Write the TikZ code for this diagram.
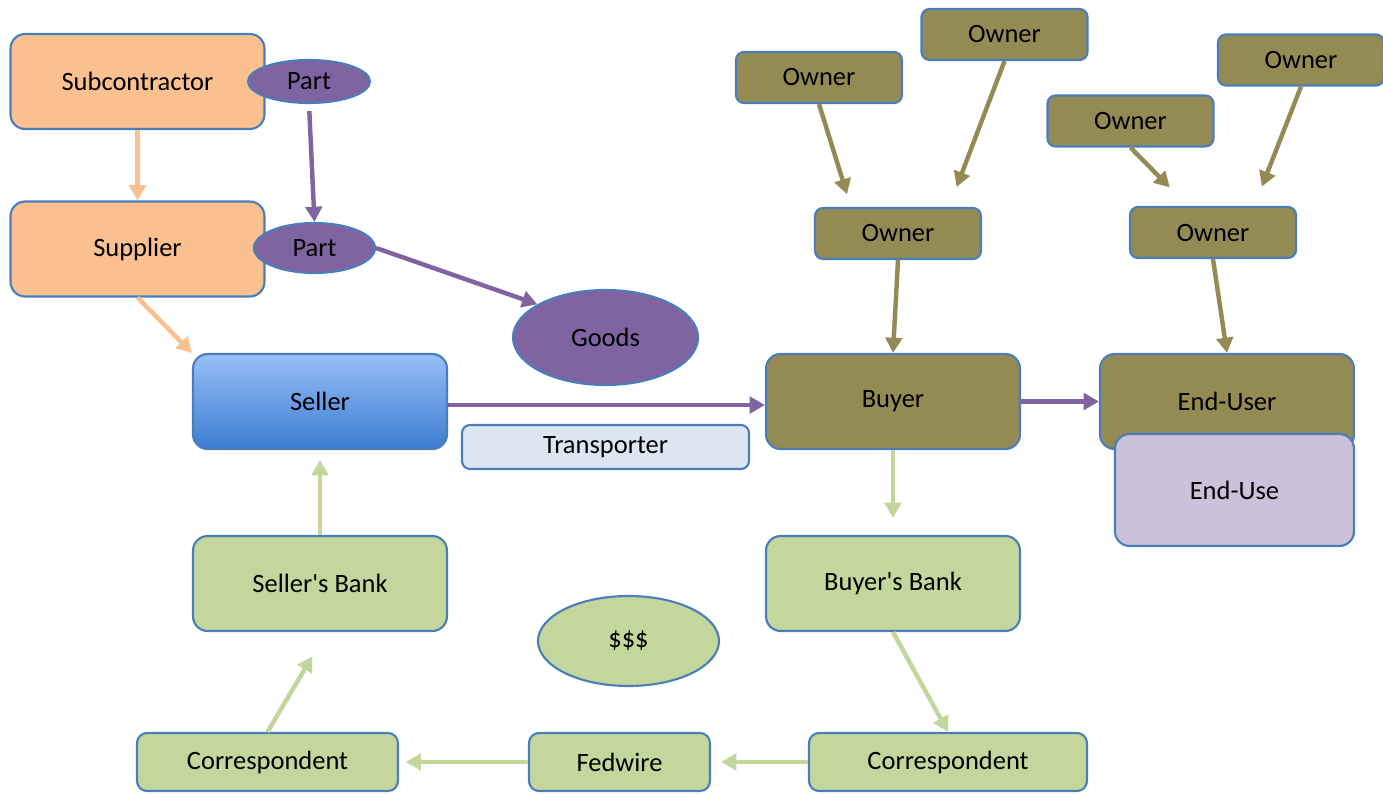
\documentclass[tikz,border=0pt]{standalone}
\usepackage{fontspec}
\setmainfont{Carlito}
\usetikzlibrary{arrows.meta,shapes.geometric}
\definecolor{edgeblue}{HTML}{4A7EBB}
\definecolor{peach}{HTML}{FAC090}
\definecolor{grape}{HTML}{8064A2}
\definecolor{olive}{HTML}{948A54}
\definecolor{sage}{HTML}{C3D69B}
\definecolor{lilac}{HTML}{CCC1DA}
\definecolor{paleblue}{HTML}{DCE6F2}
\definecolor{skytop}{HTML}{97BEF9}
\definecolor{skybot}{HTML}{3C7DD0}

\begin{document}
\begin{tikzpicture}[x=1.5cm,y=1.5cm,font=\fontsize{11.3}{13}\selectfont,
    box/.style={draw=edgeblue, line width=0.9pt, rounded corners=0.22cm, inner sep=0pt, minimum width=3.81cm, minimum height=1.425cm},
    obox/.style={box, minimum width=2.49cm, minimum height=0.765cm, fill=olive, rounded corners=0.12cm},
    lowbox/.style={box, minimum height=0.87cm, fill=sage, rounded corners=0.15cm},
    oval/.style={draw=edgeblue, line width=0.9pt, ellipse, inner sep=0pt},
    arr/.style={line width=1.9pt, -{Triangle[width=7pt,length=6.5pt]}}]
    \useasboundingbox (0,0) rectangle (13.83,-7.95);

    % goods side
    \node[box, fill=peach] (sub) at (1.375,-0.815) {Subcontractor};
    \node[box, fill=peach] (sup) at (1.375,-2.49) {Supplier};
    \node[oval, fill=grape, minimum width=1.83cm, minimum height=0.645cm] (part1) at (3.09,-0.815) {Part};
    \node[oval, fill=grape, minimum width=1.815cm, minimum height=0.75cm] (part2) at (3.145,-2.48) {Part};
    \node[oval, fill=grape, minimum width=2.775cm, minimum height=1.425cm] (goods) at (6.055,-3.375) {Goods};
    \node[box, top color=skytop, middle color=skytop!60!skybot, bottom color=skybot] (sell) at (3.20,-4.015) {Seller};
    \node[box, fill=paleblue, minimum width=4.305cm, minimum height=0.66cm, rounded corners=0.12cm] (trans) at (6.055,-4.47) {Transporter};

    % owners
    \node[obox] (own1) at (8.19,-0.775) {Owner};
    \node[obox] (own2) at (10.045,-0.345) {Owner};
    \node[obox] (own3) at (11.305,-1.21) {Owner};
    \node[obox] (own4) at (13.01,-0.60) {Owner};
    \node[obox] (own5) at (8.98,-2.335) {Owner};
    \node[obox] (own6) at (12.13,-2.325) {Owner};
    \node[box, fill=olive] (buy) at (8.93,-4.015) {Buyer};
    \node[box, fill=olive] (euser) at (12.27,-4.015) {End-User};
    \node[box, fill=lilac, minimum width=3.585cm, minimum height=1.68cm] (euse) at (12.345,-4.90) {End-Use};

    % money side
    \node[box, fill=sage] (sbank) at (3.20,-5.835) {Seller\textquotesingle s Bank};
    \node[box, fill=sage] (bbank) at (8.93,-5.835) {Buyer\textquotesingle s Bank};
    \node[oval, fill=sage, minimum width=2.715cm, minimum height=1.35cm] (cash) at (6.285,-6.41) {\$\$\$};
    \node[lowbox, minimum width=3.915cm] (corr1) at (2.675,-7.62) {Correspondent};
    \node[lowbox, minimum width=2.715cm] (fed) at (6.195,-7.62) {Fedwire};
    \node[lowbox, minimum width=4.17cm] (corr2) at (9.48,-7.62) {Correspondent};

    \draw[arr, peach] (sub.south) -- (sup.north);
    \draw[arr, peach] (sup.south) -- (sell.north west);
    \draw[arr, grape, shorten <=3pt] (part1.south) -- (part2.north);
    \draw[arr, grape] (part2.east) -- (goods.154);
    \draw[arr, grape] ([yshift=-1.5pt]sell.east) -- ([yshift=-1.5pt]buy.west);
    \draw[arr, grape] (buy.east) -- (euser.west);

    \draw[arr, olive, shorten >=0.2cm] (own1.south) -- ([xshift=-0.705cm]own5.north);
    \draw[arr, olive, shorten >=0.32cm] (own2.south) -- ([xshift=0.765cm]own5.north);
    \draw[arr, olive, shorten >=0.39cm] (own3.south) -- ([xshift=-0.375cm]own6.north);
    \draw[arr, olive, shorten >=0.31cm] (own4.south) -- ([xshift=0.62cm]own6.north);
    \draw[arr, olive] (own5.south) -- (buy.north);
    \draw[arr, olive] (own6.south) -- (euser.north);

    \draw[arr, sage, shorten >=0.255cm] (buy.south) -- (bbank.north);
    \draw[arr, sage, shorten >=0.15cm] (sbank.north) -- (sell.south);
    \draw[arr, sage] (bbank.south) -- (corr2.north);
    \draw[arr, sage, shorten >=0.15cm] (corr2.west) -- (fed.east);
    \draw[arr, sage, shorten >=0.1cm] (fed.west) -- (corr1.east);
    \draw[arr, sage, shorten >=0.42cm] (corr1.north) -- ([xshift=0.1cm]sbank.south);
\end{tikzpicture}
\end{document}
